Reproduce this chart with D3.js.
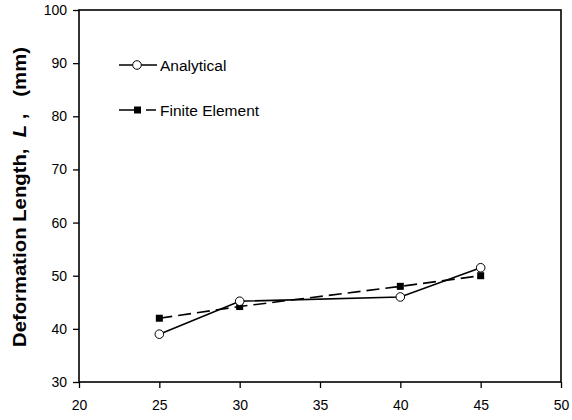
<!DOCTYPE html>
<html>
<head>
<meta charset="utf-8">
<script src="https://cdn.jsdelivr.net/npm/d3@7"></script>
<style>
  body { margin: 0; background: #fff; }
  text { font-family: "Liberation Sans", Arial, sans-serif; }
</style>
</head>
<body>
<div id="viz"></div>
<script>
// DATA
var xValues = [25, 30, 40, 45];
var analytical = [39, 45.2, 46, 51.5];
var finiteElement = [42, 44.2, 48, 50];
var xTicks = [20, 25, 30, 35, 40, 45, 50];
var yTicks = [30, 40, 50, 60, 70, 80, 90, 100];

(function () {
// Dimensions
var w = 572, h = 420;
var pLeft = 79, pRight = 561, pTop = 10, pBottom = 382;

var svg = d3.select("#viz").append("svg")
  .attr("width", w)
  .attr("height", h);

var x = d3.scaleLinear().domain([20, 50]).range([pLeft, pRight]);
var y = d3.scaleLinear().domain([30, 100]).range([pBottom, pTop]);

// AXES
var xAxis = svg.append("g")
  .attr("transform", "translate(0," + pBottom + ")")
  .call(d3.axisBottom(x).tickValues(xTicks).tickSize(6).tickPadding(12));
var yAxis = svg.append("g")
  .attr("transform", "translate(" + pLeft + ",0)")
  .call(d3.axisLeft(y).tickValues(yTicks).tickSize(6).tickPadding(6));

[xAxis, yAxis].forEach(function (a) {
  a.select(".domain").remove();
  a.selectAll("line").attr("stroke", "#000").attr("stroke-width", 1.3);
  a.selectAll("text").style("font-size", "14px").attr("fill", "#000")
    .style("font-family", "'Liberation Sans', Arial, sans-serif");
});

// frame
svg.append("rect")
  .attr("x", pLeft).attr("y", pTop)
  .attr("width", pRight - pLeft).attr("height", pBottom - pTop)
  .attr("fill", "none").attr("stroke", "#000").attr("stroke-width", 1.6);

// y label
var yl = svg.append("text")
  .attr("transform", "translate(26," + 197 + ") rotate(-90)")
  .attr("text-anchor", "middle")
  .style("font-size", "18px")
  .style("font-weight", "bold")
  .attr("xml:space", "preserve")
  .style("white-space", "pre")
  .call(function (t) {
    t.append("tspan").text("Deformation Length,  ");
    t.append("tspan").style("font-style", "italic").text("L");
    t.append("tspan").text(" ,   (mm)");
  });
yl.attr("textLength", 300).attr("lengthAdjust", "spacingAndGlyphs");

// LINES
var line = d3.line()
  .x(function (d) { return x(d[0]); })
  .y(function (d) { return y(d[1]); });

var feData = d3.zip(xValues, finiteElement);
var anData = d3.zip(xValues, analytical);

svg.append("path")
  .datum(feData)
  .attr("d", line)
  .attr("fill", "none").attr("stroke", "#000")
  .attr("stroke-width", 1.6).attr("stroke-dasharray", "13,6");

svg.append("path")
  .datum(anData)
  .attr("d", line)
  .attr("fill", "none").attr("stroke", "#000")
  .attr("stroke-width", 1.6);

svg.selectAll("rect.fe")
  .data(feData).enter().append("rect")
  .attr("class", "fe")
  .attr("x", function (d) { return x(d[0]) - 3.5; })
  .attr("y", function (d) { return y(d[1]) - 3.5; })
  .attr("width", 7).attr("height", 7)
  .attr("fill", "#000");

svg.selectAll("circle.an")
  .data(anData).enter().append("circle")
  .attr("class", "an")
  .attr("cx", function (d) { return x(d[0]); })
  .attr("cy", function (d) { return y(d[1]); })
  .attr("r", 4.3)
  .attr("fill", "#fff").attr("stroke", "#000").attr("stroke-width", 1);

// LEGEND
var lg = svg.append("g");
lg.append("line").attr("x1", 119).attr("x2", 157).attr("y1", 65).attr("y2", 65)
  .attr("stroke", "#000").attr("stroke-width", 1.6);
lg.append("circle").attr("cx", 137).attr("cy", 65).attr("r", 4.3)
  .attr("fill", "#fff").attr("stroke", "#000");
lg.append("text").attr("x", 160).attr("y", 70.5).style("font-size", "15.5px").text("Analytical");

lg.append("line").attr("x1", 119).attr("x2", 156).attr("y1", 110).attr("y2", 110)
  .attr("stroke", "#000").attr("stroke-width", 1.6).attr("stroke-dasharray", "22,5,10");
lg.append("rect").attr("x", 134).attr("y", 106.5).attr("width", 7).attr("height", 7).attr("fill", "#000");
lg.append("text").attr("x", 160).attr("y", 115.5).style("font-size", "15.5px").text("Finite Element");
})();
</script>
</body>
</html>
